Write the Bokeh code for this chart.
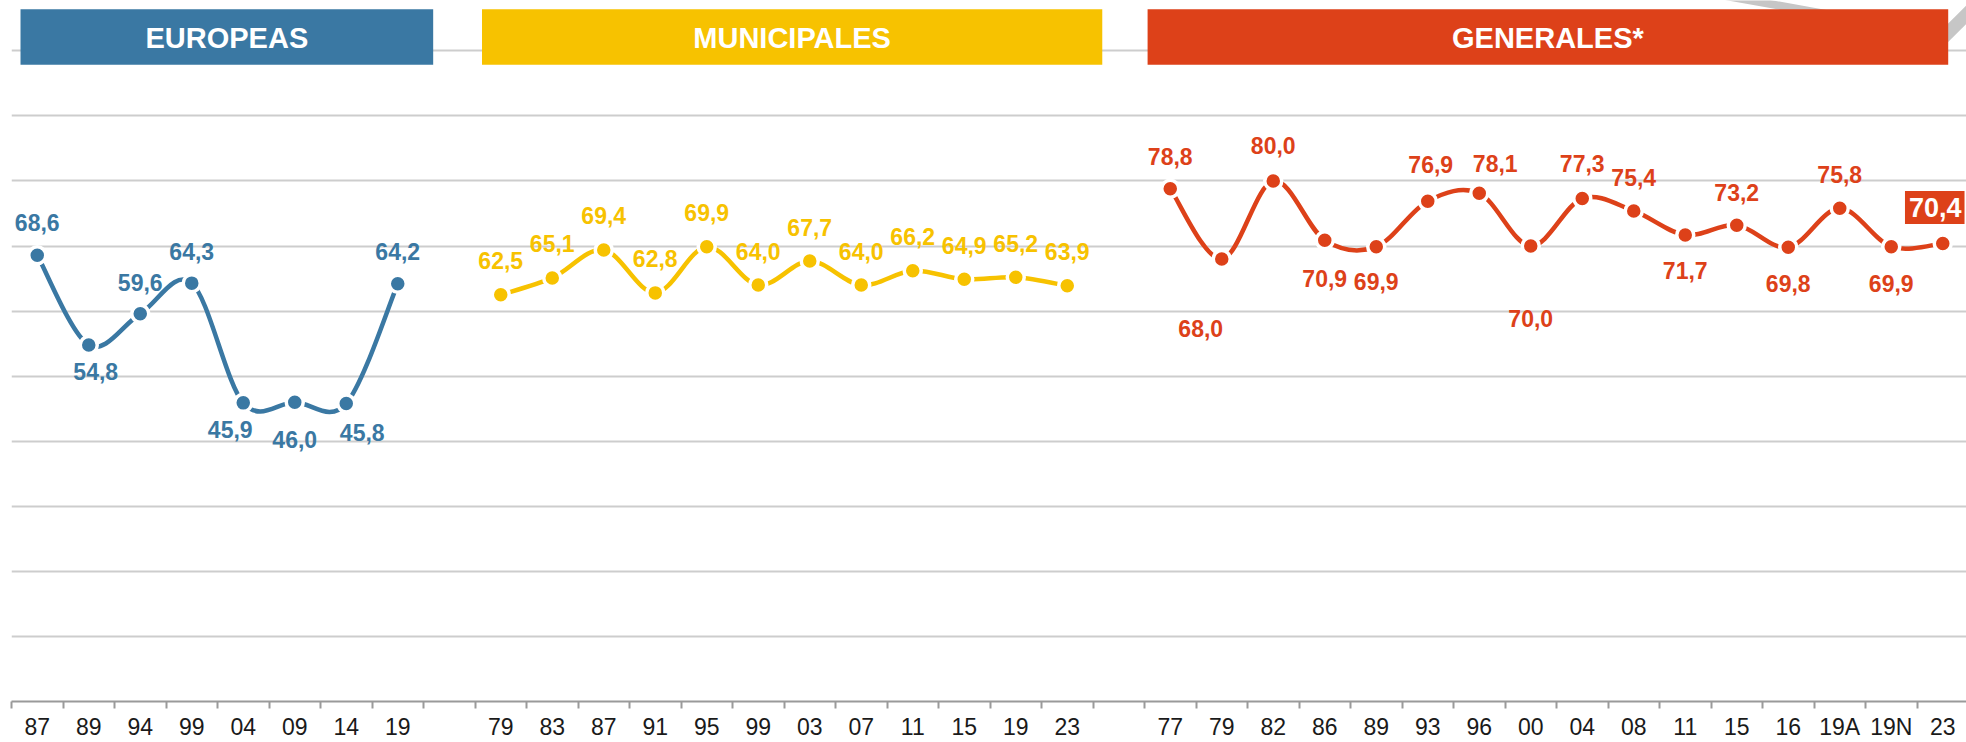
from bokeh.plotting import figure
from bokeh.models import ColumnDataSource, Range1d, FixedTicker
from bokeh.core.properties import value
from bokeh.embed import file_html
from bokeh.resources import INLINE

# ---------------- data ----------------
eu_years = ["87", "89", "94", "99", "04", "09", "14", "19"]
eu_vals = [68.6, 54.8, 59.6, 64.3, 45.9, 46.0, 45.8, 64.2]

mun_years = ["79", "83", "87", "91", "95", "99", "03", "07", "11", "15", "19", "23"]
mun_vals = [62.5, 65.1, 69.4, 62.8, 69.9, 64.0, 67.7, 64.0, 66.2, 64.9, 65.2, 63.9]

gen_years = ["77", "79", "82", "86", "89", "93", "96", "00", "04", "08",
             "11", "15", "16", "19A", "19N", "23"]
gen_vals = [78.8, 68.0, 80.0, 70.9, 69.9, 76.9, 78.1, 70.0, 77.3, 75.4,
            71.7, 73.2, 69.8, 75.8, 69.9, 70.4]

section_titles = ["EUROPEAS", "MUNICIPALES", "GENERALES*"]

# ---------------- styles / layout ----------------
BLUE = "#3A78A3"
YELLOW = "#F7C200"
RED = "#DD4119"
FONT = "Liberation Sans"

eu_start, mun_start, gen_start = 0, 9, 22
n_slots = gen_start + len(gen_years)

# label placement (screen px, +y = down)
eu_dx = [0, 7, 0, 0, -13, 0, 16, 0]
eu_dy = [-33, 27, -31, -32, 27, 37, 29, -32]
mun_dx = [0] * 12
mun_dy = [-34] * 12
gen_dx = [0, -21, 0, 0, 0, 3, 16, 0, 0, 0, 0, 0, 0, 0, 0, -8]
gen_dy = [-32, 69, -35, 38, 35, -37, -30, 72, -35, -33, 36, -33, 36, -34, 37, -36]

header_left = [-0.325, 8.636, 21.56]
header_right = [7.688, 20.68, 37.106]
header_bottom, header_top = 97.87, 106.4

W, H = 1966, 742
PX_SLOT = 51.5
PX_UNIT = 6.525
LEFT_B, BOTTOM_B = 11, 39
frame_w = W - LEFT_B
frame_h = H - BOTTOM_B

p = figure(width=W, height=H, output_backend="svg", toolbar_location=None,
           x_range=Range1d(-0.5, -0.5 + frame_w / PX_SLOT),
           y_range=Range1d(0, frame_h / PX_UNIT),
           y_axis_location=None,
           min_border_left=LEFT_B, min_border_right=0,
           min_border_top=0, min_border_bottom=BOTTOM_B)
p.outline_line_color = None
p.background_fill_color = "white"
p.xgrid.visible = False
p.ygrid.ticker = FixedTicker(ticks=list(range(0, 101, 10)))
p.ygrid.grid_line_color = "#cdcdcd"
p.ygrid.grid_line_width = 2

# x axis: labels at slot centres, tick marks at slot boundaries
centers, overrides = [], {}
for start, yrs in ((eu_start, eu_years), (mun_start, mun_years), (gen_start, gen_years)):
    for i, y in enumerate(yrs):
        centers.append(start + i)
        overrides[start + i] = y
boundaries = [k - 0.5 for k in range(n_slots + 1)]
ax = p.xaxis[0]
ax.ticker = FixedTicker(ticks=centers, minor_ticks=boundaries)
ax.major_label_overrides = overrides
ax.major_tick_out = 0
ax.major_tick_in = 0
ax.minor_tick_out = 7
ax.minor_tick_in = 0
ax.minor_tick_line_color = "#9a9a9a"
ax.minor_tick_line_width = 2
ax.axis_line_color = "#9a9a9a"
ax.axis_line_width = 2
ax.major_label_text_font = FONT
ax.major_label_text_font_size = "23px"
ax.major_label_text_color = "#1a1a1a"
ax.major_label_standoff = 5


def px_x(px):
    return (px - LEFT_B) / PX_SLOT - 0.5


def px_y(py):
    return (frame_h - py) / PX_UNIT


# decorative grey swoosh (mostly hidden by the header)
p.segment(x0=[px_x(1700), px_x(1990)], y0=[px_y(-9), px_y(-10)],
          x1=[px_x(1850), px_x(1935)], y1=[px_y(18), px_y(45)],
          line_color="#c6c6c6", line_width=[8, 13])

# headers
p.quad(left=header_left, right=header_right, bottom=header_bottom, top=header_top,
       fill_color=[BLUE, YELLOW, RED], line_color=None)
p.text(x=[(l + r) / 2 for l, r in zip(header_left, header_right)],
       y=[(header_bottom + header_top) / 2] * 3, text=section_titles,
       text_color="white", text_font=value(FONT), text_font_style="bold",
       text_font_size=value("29px"), text_align="center", text_baseline="middle",
       y_offset=1)


def bezier_segments(xs, ys):
    n = len(xs)
    seg = dict(x0=[], y0=[], x1=[], y1=[], cx0=[], cy0=[], cx1=[], cy1=[])
    for i in range(n - 1):
        xm1, ym1 = (xs[i - 1], ys[i - 1]) if i > 0 else (xs[i], ys[i])
        xp2, yp2 = (xs[i + 2], ys[i + 2]) if i + 2 < n else (xs[i + 1], ys[i + 1])
        seg["x0"].append(xs[i]); seg["y0"].append(ys[i])
        seg["x1"].append(xs[i + 1]); seg["y1"].append(ys[i + 1])
        seg["cx0"].append(xs[i] + (xs[i + 1] - xm1) / 6)
        seg["cy0"].append(ys[i] + (ys[i + 1] - ym1) / 6)
        seg["cx1"].append(xs[i + 1] - (xp2 - xs[i]) / 6)
        seg["cy1"].append(ys[i + 1] - (yp2 - ys[i]) / 6)
    return seg


def fmt(v):
    return f"{v:.1f}".replace(".", ",")


series = [
    (eu_start, eu_vals, BLUE, eu_dx, eu_dy),
    (mun_start, mun_vals, YELLOW, mun_dx, mun_dy),
    (gen_start, gen_vals, RED, gen_dx, gen_dy),
]

for start, vals, col, dxs, dys in series:
    xs = [start + i for i in range(len(vals))]
    p.bezier(source=ColumnDataSource(bezier_segments(xs, vals)),
             x0="x0", y0="y0", x1="x1", y1="y1",
             cx0="cx0", cy0="cy0", cx1="cx1", cy1="cy1",
             line_color=col, line_width=4.5)
    p.scatter(xs, vals, size=17, fill_color=col, line_color="white", line_width=3.5)
    n_lab = len(vals) - 1 if col == RED else len(vals)
    src = ColumnDataSource(dict(x=xs[:n_lab], y=vals[:n_lab],
                                t=[fmt(v) for v in vals[:n_lab]],
                                dx=dxs[:n_lab], dy=dys[:n_lab]))
    p.text(x="x", y="y", text="t", x_offset="dx", y_offset="dy", source=src,
           text_color=col, text_font=value(FONT), text_font_style="bold",
           text_font_size=value("23px"), text_align="center", text_baseline="middle")

# highlighted last value
p.text(x=[gen_start + len(gen_vals) - 1], y=[gen_vals[-1]], text=[fmt(gen_vals[-1])],
       x_offset=gen_dx[-1], y_offset=gen_dy[-1],
       text_color="white", text_font=value(FONT), text_font_style="bold",
       text_font_size=value("27px"), text_align="center", text_baseline="middle",
       background_fill_color=RED,
       padding=dict(left=4, right=3, top=7, bottom=7))

open("out.html", "w").write(file_html(p, INLINE))
